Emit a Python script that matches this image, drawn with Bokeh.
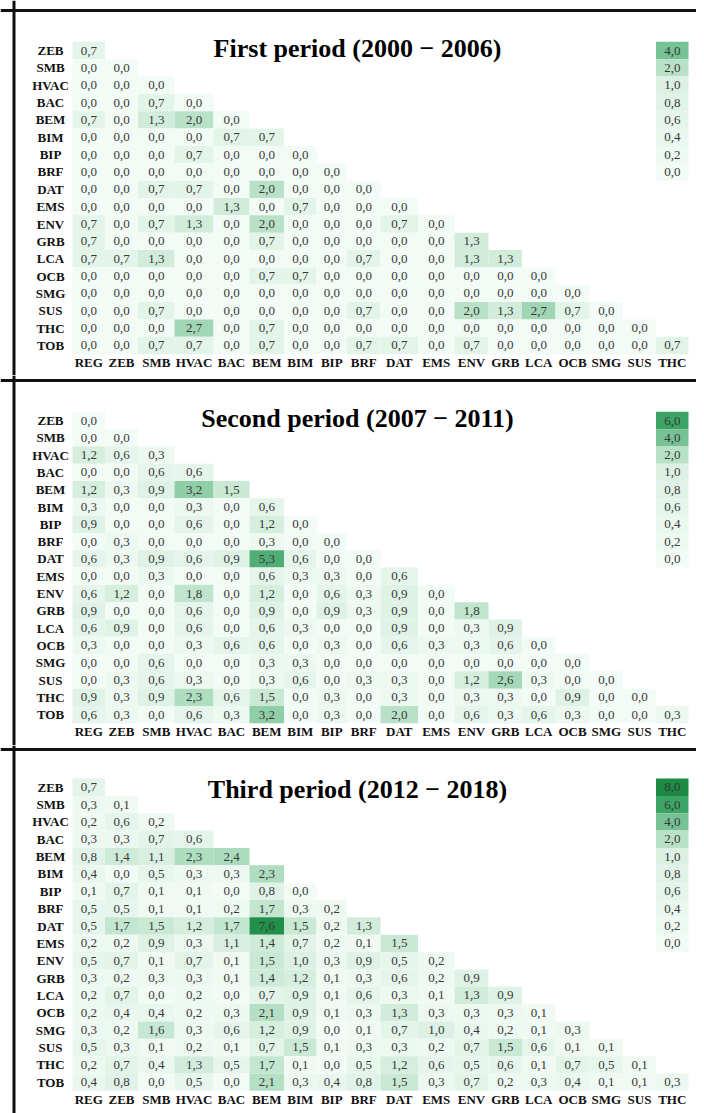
from bokeh.plotting import figure
from bokeh.models import ColumnDataSource, LinearColorMapper, Range1d, Span
from bokeh.layouts import column
from bokeh.transform import transform
from bokeh.core.properties import value
from bokeh.embed import file_html
from bokeh.resources import INLINE

# ---------------- data ----------------
row_labels = ["ZEB", "SMB", "HVAC", "BAC", "BEM", "BIM", "BIP", "BRF", "DAT",
              "EMS", "ENV", "GRB", "LCA", "OCB", "SMG", "SUS", "THC", "TOB"]
col_labels = ["REG", "ZEB", "SMB", "HVAC", "BAC", "BEM", "BIM", "BIP", "BRF",
              "DAT", "EMS", "ENV", "GRB", "LCA", "OCB", "SMG", "SUS", "THC"]

titles = ["First period (2000 \u2212 2006)",
          "Second period (2007 \u2212 2011)",
          "Third period (2012 \u2212 2018)"]

first_period = [
    [0.7],
    [0.0, 0.0],
    [0.0, 0.0, 0.0],
    [0.0, 0.0, 0.7, 0.0],
    [0.7, 0.0, 1.3, 2.0, 0.0],
    [0.0, 0.0, 0.0, 0.0, 0.7, 0.7],
    [0.0, 0.0, 0.0, 0.7, 0.0, 0.0, 0.0],
    [0.0, 0.0, 0.0, 0.0, 0.0, 0.0, 0.0, 0.0],
    [0.0, 0.0, 0.7, 0.7, 0.0, 2.0, 0.0, 0.0, 0.0],
    [0.0, 0.0, 0.0, 0.0, 1.3, 0.0, 0.7, 0.0, 0.0, 0.0],
    [0.7, 0.0, 0.7, 1.3, 0.0, 2.0, 0.0, 0.0, 0.0, 0.7, 0.0],
    [0.7, 0.0, 0.0, 0.0, 0.0, 0.7, 0.0, 0.0, 0.0, 0.0, 0.0, 1.3],
    [0.7, 0.7, 1.3, 0.0, 0.0, 0.0, 0.0, 0.0, 0.7, 0.0, 0.0, 1.3, 1.3],
    [0.0, 0.0, 0.0, 0.0, 0.0, 0.7, 0.7, 0.0, 0.0, 0.0, 0.0, 0.0, 0.0, 0.0],
    [0.0, 0.0, 0.0, 0.0, 0.0, 0.0, 0.0, 0.0, 0.0, 0.0, 0.0, 0.0, 0.0, 0.0, 0.0],
    [0.0, 0.0, 0.7, 0.0, 0.0, 0.0, 0.0, 0.0, 0.7, 0.0, 0.0, 2.0, 1.3, 2.7, 0.7, 0.0],
    [0.0, 0.0, 0.0, 2.7, 0.0, 0.7, 0.0, 0.0, 0.0, 0.0, 0.0, 0.0, 0.0, 0.0, 0.0, 0.0, 0.0],
    [0.0, 0.0, 0.7, 0.7, 0.0, 0.7, 0.0, 0.0, 0.7, 0.7, 0.0, 0.7, 0.0, 0.0, 0.0, 0.0, 0.0, 0.7],
]

second_period = [
    [0.0],
    [0.0, 0.0],
    [1.2, 0.6, 0.3],
    [0.0, 0.0, 0.6, 0.6],
    [1.2, 0.3, 0.9, 3.2, 1.5],
    [0.3, 0.0, 0.0, 0.3, 0.0, 0.6],
    [0.9, 0.0, 0.0, 0.6, 0.0, 1.2, 0.0],
    [0.0, 0.3, 0.0, 0.0, 0.0, 0.3, 0.0, 0.0],
    [0.6, 0.3, 0.9, 0.6, 0.9, 5.3, 0.6, 0.0, 0.0],
    [0.0, 0.0, 0.3, 0.0, 0.0, 0.6, 0.3, 0.3, 0.0, 0.6],
    [0.6, 1.2, 0.0, 1.8, 0.0, 1.2, 0.0, 0.6, 0.3, 0.9, 0.0],
    [0.9, 0.0, 0.0, 0.6, 0.0, 0.9, 0.0, 0.9, 0.3, 0.9, 0.0, 1.8],
    [0.6, 0.9, 0.0, 0.6, 0.0, 0.6, 0.3, 0.0, 0.0, 0.9, 0.0, 0.3, 0.9],
    [0.3, 0.0, 0.0, 0.3, 0.6, 0.6, 0.0, 0.3, 0.0, 0.6, 0.3, 0.3, 0.6, 0.0],
    [0.0, 0.0, 0.6, 0.0, 0.0, 0.3, 0.3, 0.0, 0.0, 0.0, 0.0, 0.0, 0.0, 0.0, 0.0],
    [0.0, 0.3, 0.6, 0.3, 0.0, 0.3, 0.6, 0.0, 0.3, 0.3, 0.0, 1.2, 2.6, 0.3, 0.0, 0.0],
    [0.9, 0.3, 0.9, 2.3, 0.6, 1.5, 0.0, 0.3, 0.0, 0.3, 0.0, 0.3, 0.3, 0.0, 0.9, 0.0, 0.0],
    [0.6, 0.3, 0.0, 0.6, 0.3, 3.2, 0.0, 0.3, 0.0, 2.0, 0.0, 0.6, 0.3, 0.6, 0.3, 0.0, 0.0, 0.3],
]

third_period = [
    [0.7],
    [0.3, 0.1],
    [0.2, 0.6, 0.2],
    [0.3, 0.3, 0.7, 0.6],
    [0.8, 1.4, 1.1, 2.3, 2.4],
    [0.4, 0.0, 0.5, 0.3, 0.3, 2.3],
    [0.1, 0.7, 0.1, 0.1, 0.0, 0.8, 0.0],
    [0.5, 0.5, 0.1, 0.1, 0.2, 1.7, 0.3, 0.2],
    [0.5, 1.7, 1.5, 1.2, 1.7, 7.6, 1.5, 0.2, 1.3],
    [0.2, 0.2, 0.9, 0.3, 1.1, 1.4, 0.7, 0.2, 0.1, 1.5],
    [0.5, 0.7, 0.1, 0.7, 0.1, 1.5, 1.0, 0.3, 0.9, 0.5, 0.2],
    [0.3, 0.2, 0.3, 0.3, 0.1, 1.4, 1.2, 0.1, 0.3, 0.6, 0.2, 0.9],
    [0.2, 0.7, 0.0, 0.2, 0.0, 0.7, 0.9, 0.1, 0.6, 0.3, 0.1, 1.3, 0.9],
    [0.2, 0.4, 0.4, 0.2, 0.3, 2.1, 0.9, 0.1, 0.3, 1.3, 0.3, 0.3, 0.3, 0.1],
    [0.3, 0.2, 1.6, 0.3, 0.6, 1.2, 0.9, 0.0, 0.1, 0.7, 1.0, 0.4, 0.2, 0.1, 0.3],
    [0.5, 0.3, 0.1, 0.2, 0.1, 0.7, 1.5, 0.1, 0.3, 0.3, 0.2, 0.7, 1.5, 0.6, 0.1, 0.1],
    [0.2, 0.7, 0.4, 1.3, 0.5, 1.7, 0.1, 0.0, 0.5, 1.2, 0.6, 0.5, 0.6, 0.1, 0.7, 0.5, 0.1],
    [0.4, 0.8, 0.0, 0.5, 0.0, 2.1, 0.3, 0.4, 0.8, 1.5, 0.3, 0.7, 0.2, 0.3, 0.4, 0.1, 0.1, 0.3],
]

legend_first = [4.0, 2.0, 1.0, 0.8, 0.6, 0.4, 0.2, 0.0]
legend_second = [6.0, 4.0, 2.0, 1.0, 0.8, 0.6, 0.4, 0.2, 0.0]
legend_third = [8.0, 6.0, 4.0, 2.0, 1.0, 0.8, 0.6, 0.4, 0.2, 0.0]

# ---------------- styling / layout ----------------
SERIF = value("Liberation Serif")

stops = [(0.0, (242, 251, 245)), (0.125, (220, 241, 228)), (0.25, (184, 225, 199)),
         (0.5, (118, 194, 148)), (0.75, (60, 164, 101)), (1.0, (28, 138, 68))]
palette = []
for k in range(256):
    t = k / 255
    for (t0, c0), (t1, c1) in zip(stops[:-1], stops[1:]):
        if t0 <= t <= t1:
            f = (t - t0) / (t1 - t0)
            rgb = [round(a + (b - a) * f) for a, b in zip(c0, c1)]
            palette.append("#%02x%02x%02x" % tuple(rgb))
            break
mapper = LinearColorMapper(palette=palette, low=0, high=8)


def fmt(v):
    return f"{v:.1f}".replace(".", ",")


FIG_W = 696
GRID_LEFT_PX = 72.0
COL_WIDTHS_PX = [32.5, 33, 36.5, 39, 36, 34.5, 32.5, 30.5, 33.5,
                 37.5, 36.5, 34, 33.5, 33.5, 34, 33.5, 33, 32.5]
ROWLAB_PX = 50.0
LEFT_LINE_PX = 13.5
TITLE_CENTER_PX = 357.0

col_left = []
acc = GRID_LEFT_PX
for w in COL_WIDTHS_PX:
    col_left.append(acc)
    acc += w
col_center = [l + w / 2 for l, w in zip(col_left, COL_WIDTHS_PX)]


def make_panel(title, matrix, legend, H, off, rh, top_line_px, title_base):
    y_top = -off / rh
    y_bot = (H - off) / rh
    p = figure(width=FIG_W, height=H, x_range=Range1d(0, FIG_W),
               y_range=Range1d(y_bot, y_top), output_backend="svg",
               toolbar_location=None, min_border=0)
    p.axis.visible = False
    p.grid.visible = False
    p.outline_line_color = None
    p.background_fill_color = "white"
    p.border_fill_color = "white"

    xs, ws, ys, vs, ls = [], [], [], [], []
    for i, row in enumerate(matrix):
        for j, v in enumerate(row):
            xs.append(col_center[j]); ws.append(COL_WIDTHS_PX[j])
            ys.append(i); vs.append(v); ls.append(fmt(v))
    src = ColumnDataSource(dict(x=xs, w=ws, y=ys, v=vs, label=ls))
    p.rect(x="x", y="y", width="w", height=1, source=src,
           fill_color=transform("v", mapper), line_color=None)
    p.text(x="x", y="y", text="label", source=src, text_align="center",
           text_baseline="middle", text_font=SERIF, text_font_size="13px",
           text_color="#383838")

    # legend column (in the last column)
    last = len(col_labels) - 1
    lsrc = ColumnDataSource(dict(x=[col_center[last]] * len(legend),
                                 w=[COL_WIDTHS_PX[last]] * len(legend),
                                 y=list(range(len(legend))), v=legend,
                                 label=[fmt(v) for v in legend]))
    p.rect(x="x", y="y", width="w", height=1, source=lsrc,
           fill_color=transform("v", mapper), line_color=None)
    p.text(x="x", y="y", text="label", source=lsrc, text_align="center",
           text_baseline="middle", text_font=SERIF, text_font_size="13px",
           text_color="#383838")

    # row labels
    p.text(x=[ROWLAB_PX] * len(row_labels), y=list(range(len(row_labels))),
           text=row_labels, text_align="center", text_baseline="middle",
           text_font=SERIF, text_font_style="bold", text_font_size="13px",
           text_color="#111111")
    # column labels
    p.text(x=col_center, y=[len(row_labels)] * len(col_labels),
           text=col_labels, text_align="center", text_baseline="middle",
           text_font=SERIF, text_font_style="bold", text_font_size="13px",
           text_color="#111111")
    # title
    p.text(x=[TITLE_CENTER_PX], y=[title_base], text=[title], text_align="center",
           text_baseline="alphabetic", text_font=SERIF, text_font_style="bold",
           text_font_size="26px", text_color="#000000")

    # panel frame (top and left edges)
    p.add_layout(Span(location=y_top + top_line_px / rh, dimension="width",
                      line_color="#111111", line_width=3))
    p.add_layout(Span(location=LEFT_LINE_PX, dimension="height",
                      line_color="#111111", line_width=3))
    return p


p1 = make_panel(titles[0], first_period, legend_first, 375, 50.0, 17.35, 10.0, -0.12)
p2 = make_panel(titles[1], second_period, legend_second, 370, 45.0, 17.3, 5.0, -0.12)
p3 = make_panel(titles[2], third_period, legend_third, 368, 41.7, 17.35, 4.0, 0.13)

layout = column(p1, p2, p3, spacing=0)
open("out.html", "w").write(file_html(layout, INLINE))
